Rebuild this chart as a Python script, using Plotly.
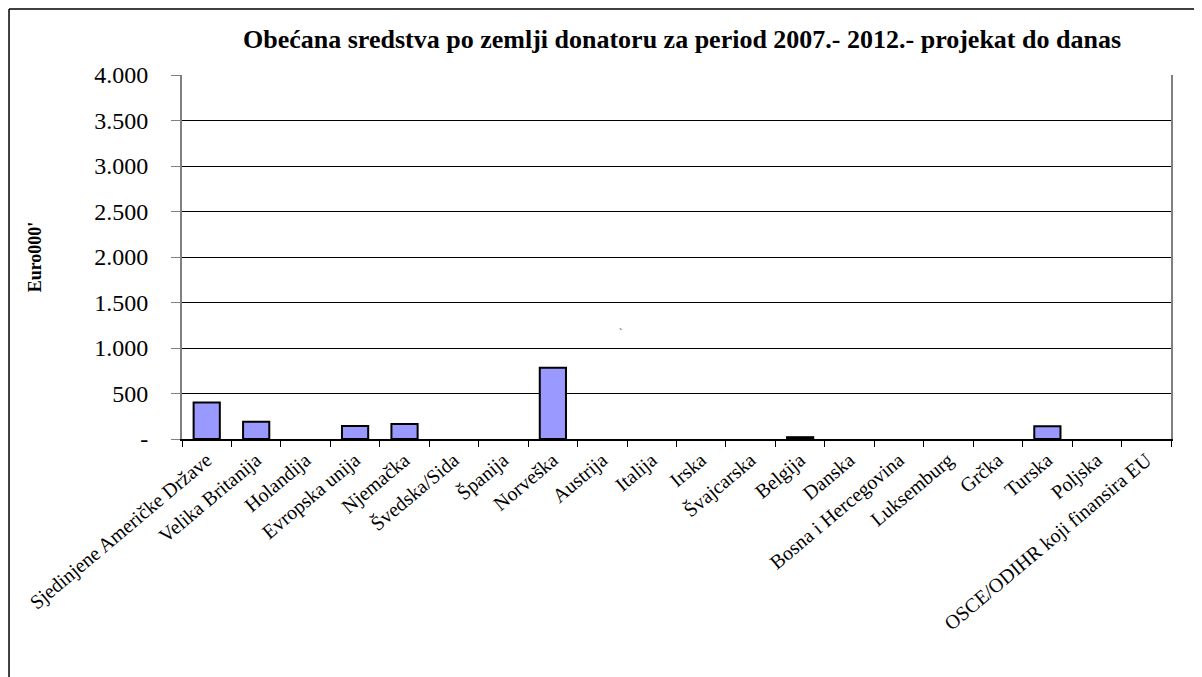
import plotly.graph_objects as go

categories = [
    "Sjedinjene Američke Države", "Velika Britanija", "Holandija", "Evropska unija",
    "Njemačka", "Švedska/Sida", "Španija", "Norveška", "Austrija", "Italija", "Irska",
    "Švajcarska", "Belgija", "Danska", "Bosna i Hercegovina", "Luksemburg", "Grčka",
    "Turska", "Poljska", "OSCE/ODIHR koji finansira EU",
]
values = [400, 190, 0, 143, 165, 0, 0, 783, 0, 0, 0, 0, 20, 0, 0, 0, 0, 140, 0, 0]
tick_vals = [0, 500, 1000, 1500, 2000, 2500, 3000, 3500, 4000]
tick_text = ["-", "500", "1.000", "1.500", "2.000", "2.500", "3.000", "3.500", "4.000"]

title_text = "Obećana sredstva po zemlji donatoru za period 2007.- 2012.- projekat do danas"
y_title = "Euro000'"

serif = "Liberation Serif, Times New Roman, serif"

# bars with zero value get no outline (they are invisible in the reference)
line_widths = [2 if v > 0 else 0 for v in values]

fig = go.Figure(go.Bar(
    x=categories, y=values,
    marker=dict(color="#9999FF", line=dict(color="#000000", width=line_widths)),
    hoverinfo="x+y",
))

fig.update_layout(
    width=1202, height=677,
    margin=dict(l=174, r=39, t=67, b=246, autoexpand=False),
    paper_bgcolor="white", plot_bgcolor="white",
    showlegend=False,
    bargap=0.47,
    font=dict(family=serif, color="#000000"),
    title=dict(text="<b>" + title_text + "</b>", x=0.5056, xanchor="center",
               xref="paper", y=0.955, yanchor="middle", font=dict(size=26, family=serif)),
    shapes=[
        dict(type="line", xref="paper", yref="paper", x0=-0.1749, x1=1.1, y0=1.1813, y1=1.1813,
             line=dict(color="#000000", width=1.5)),
        dict(type="line", xref="paper", yref="paper", x0=-0.1749, x1=-0.1749, y0=1.1813, y1=-0.8,
             line=dict(color="#000000", width=1.5)),
    ],
    annotations=[
        dict(text="`", xref="paper", yref="paper", x=0.443, y=0.272, showarrow=False,
             font=dict(size=10, family=serif)),
    ],
)

fig.update_xaxes(
    type="category",
    tickangle=-40,
    tickson="boundaries",
    ticks="outside", ticklen=6, tickcolor="#000000", tickwidth=1,
    showline=True, linecolor="#000000", linewidth=1.5, mirror=False,
    showgrid=False,
    tickfont=dict(size=20, family=serif, color="#000000"),
)

fig.update_yaxes(
    range=[0, 4000],
    tickvals=tick_vals, ticktext=tick_text,
    ticks="outside", ticklen=9, tickcolor="#808080", tickwidth=1,
    ticklabelstandoff=18,
    showline=True, linecolor="#808080", linewidth=2, mirror=True,
    showgrid=True, gridcolor="#000000", gridwidth=1,
    zeroline=False,
    tickfont=dict(size=24, family=serif, color="#000000"),
    title=dict(text="<b>" + y_title + "</b>", font=dict(size=18, family=serif), standoff=48),
)

fig.write_html("out.html")
